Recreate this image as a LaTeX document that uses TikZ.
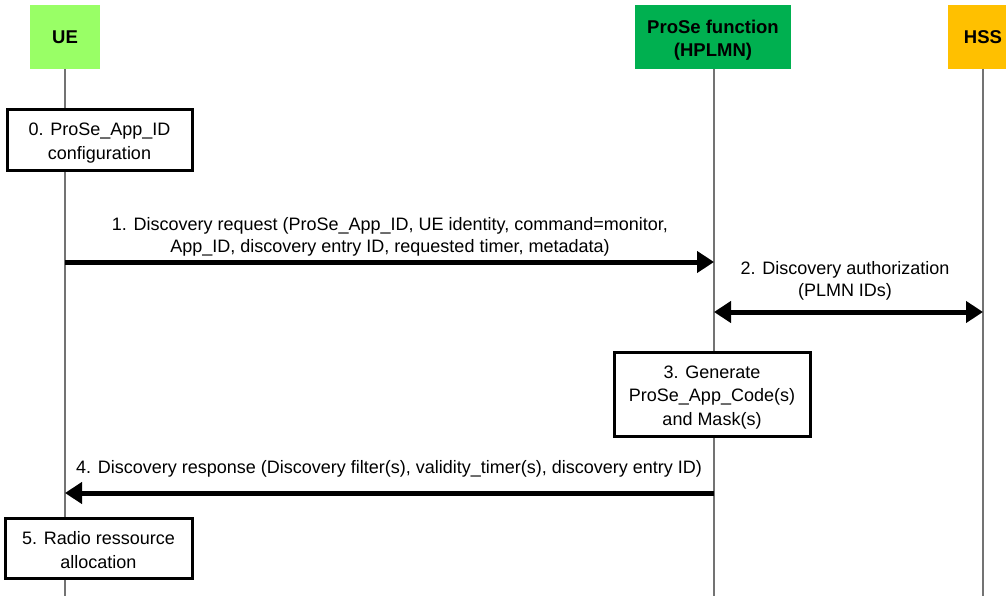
\documentclass[tikz,border=0pt]{standalone}
\usepackage{fontspec}
\setmainfont{Liberation Sans}
\usetikzlibrary{arrows.meta}
\definecolor{uegreen}{HTML}{99FF66}
\definecolor{prosegreen}{HTML}{00B050}
\definecolor{hssorange}{HTML}{FFC000}
\newcommand{\topgap}[1]{\rule{0pt}{#1}}
\tikzset{
  actor/.style={minimum height=64pt, align=center, font=\fontsize{18.5}{23}\selectfont\bfseries, inner sep=0pt},
  lifeline/.style={draw=black!55, line width=1.5pt},
  stepbox/.style={draw=black, line width=3pt, fill=white, align=center, font=\fontsize{18}{23.5}\selectfont, inner sep=0pt},
  msg/.style={line width=5pt, -{Triangle[length=17pt,width=21pt]}},
  msgboth/.style={line width=5pt, {Triangle[length=17pt,width=21pt]}-{Triangle[length=17pt,width=21pt]}},
  lbl/.style={align=center, font=\fontsize{18}{22.5}\selectfont, inner sep=0pt}
}
\begin{document}
\begin{tikzpicture}[x=1pt,y=-1pt]
\useasboundingbox (0,0) rectangle (1006,596);
% actors
\node[actor, fill=uegreen, minimum width=70pt] (ue) at (65,37) {UE};
\node[actor, fill=prosegreen, minimum width=156pt] (pf) at (713,37) {\topgap{19.5pt}ProSe function\\(HPLMN)};
\node[actor, fill=hssorange, minimum width=70pt] (hss) at (983,37) {HSS};
% lifeline ends
\coordinate (ueend) at (65,596);
\coordinate (pfend) at (714,596);
\coordinate (hssend) at (983,596);
\draw[lifeline] (65,69) -- (ueend);
\draw[lifeline] (714,69) -- (pfend);
\draw[lifeline] (983,69) -- (hssend);
% step boxes
\node[stepbox, minimum width=185pt, minimum height=61pt] (s0) at (99.5,140.5) {\topgap{17.5pt}0. ProSe\_App\_ID\\configuration};
\node[stepbox, minimum width=196pt, minimum height=84pt] (s3) at (712,394) {\topgap{19.5pt}3. Generate\\ProSe\_App\_Code(s)\\and Mask(s)};
\node[stepbox, minimum width=187pt, minimum height=60pt] (s5) at (98.5,548) {\topgap{17.5pt}5. Radio ressource\\allocation};
% messages
\coordinate (m1a) at (65,262);
\coordinate (m1b) at (714,262);
\draw[msg] (m1a) -- (m1b);
\node[lbl] (l1) at (390,237) {1. Discovery request (ProSe\_App\_ID, UE identity, command=monitor,\\App\_ID, discovery entry ID, requested timer, metadata)};
\coordinate (m2a) at (714,312);
\coordinate (m2b) at (983,312);
\draw[msgboth] (m2a) -- (m2b);
\node[lbl] (l2) at (845,281) {2. Discovery authorization\\(PLMN IDs)};
\coordinate (m4a) at (714,493);
\coordinate (m4b) at (65,493);
\draw[msg] (m4a) -- (m4b);
\node[lbl] (l4) at (389,469) {4. Discovery response (Discovery filter(s), validity\_timer(s), discovery entry ID)};
\end{tikzpicture}
\end{document}
